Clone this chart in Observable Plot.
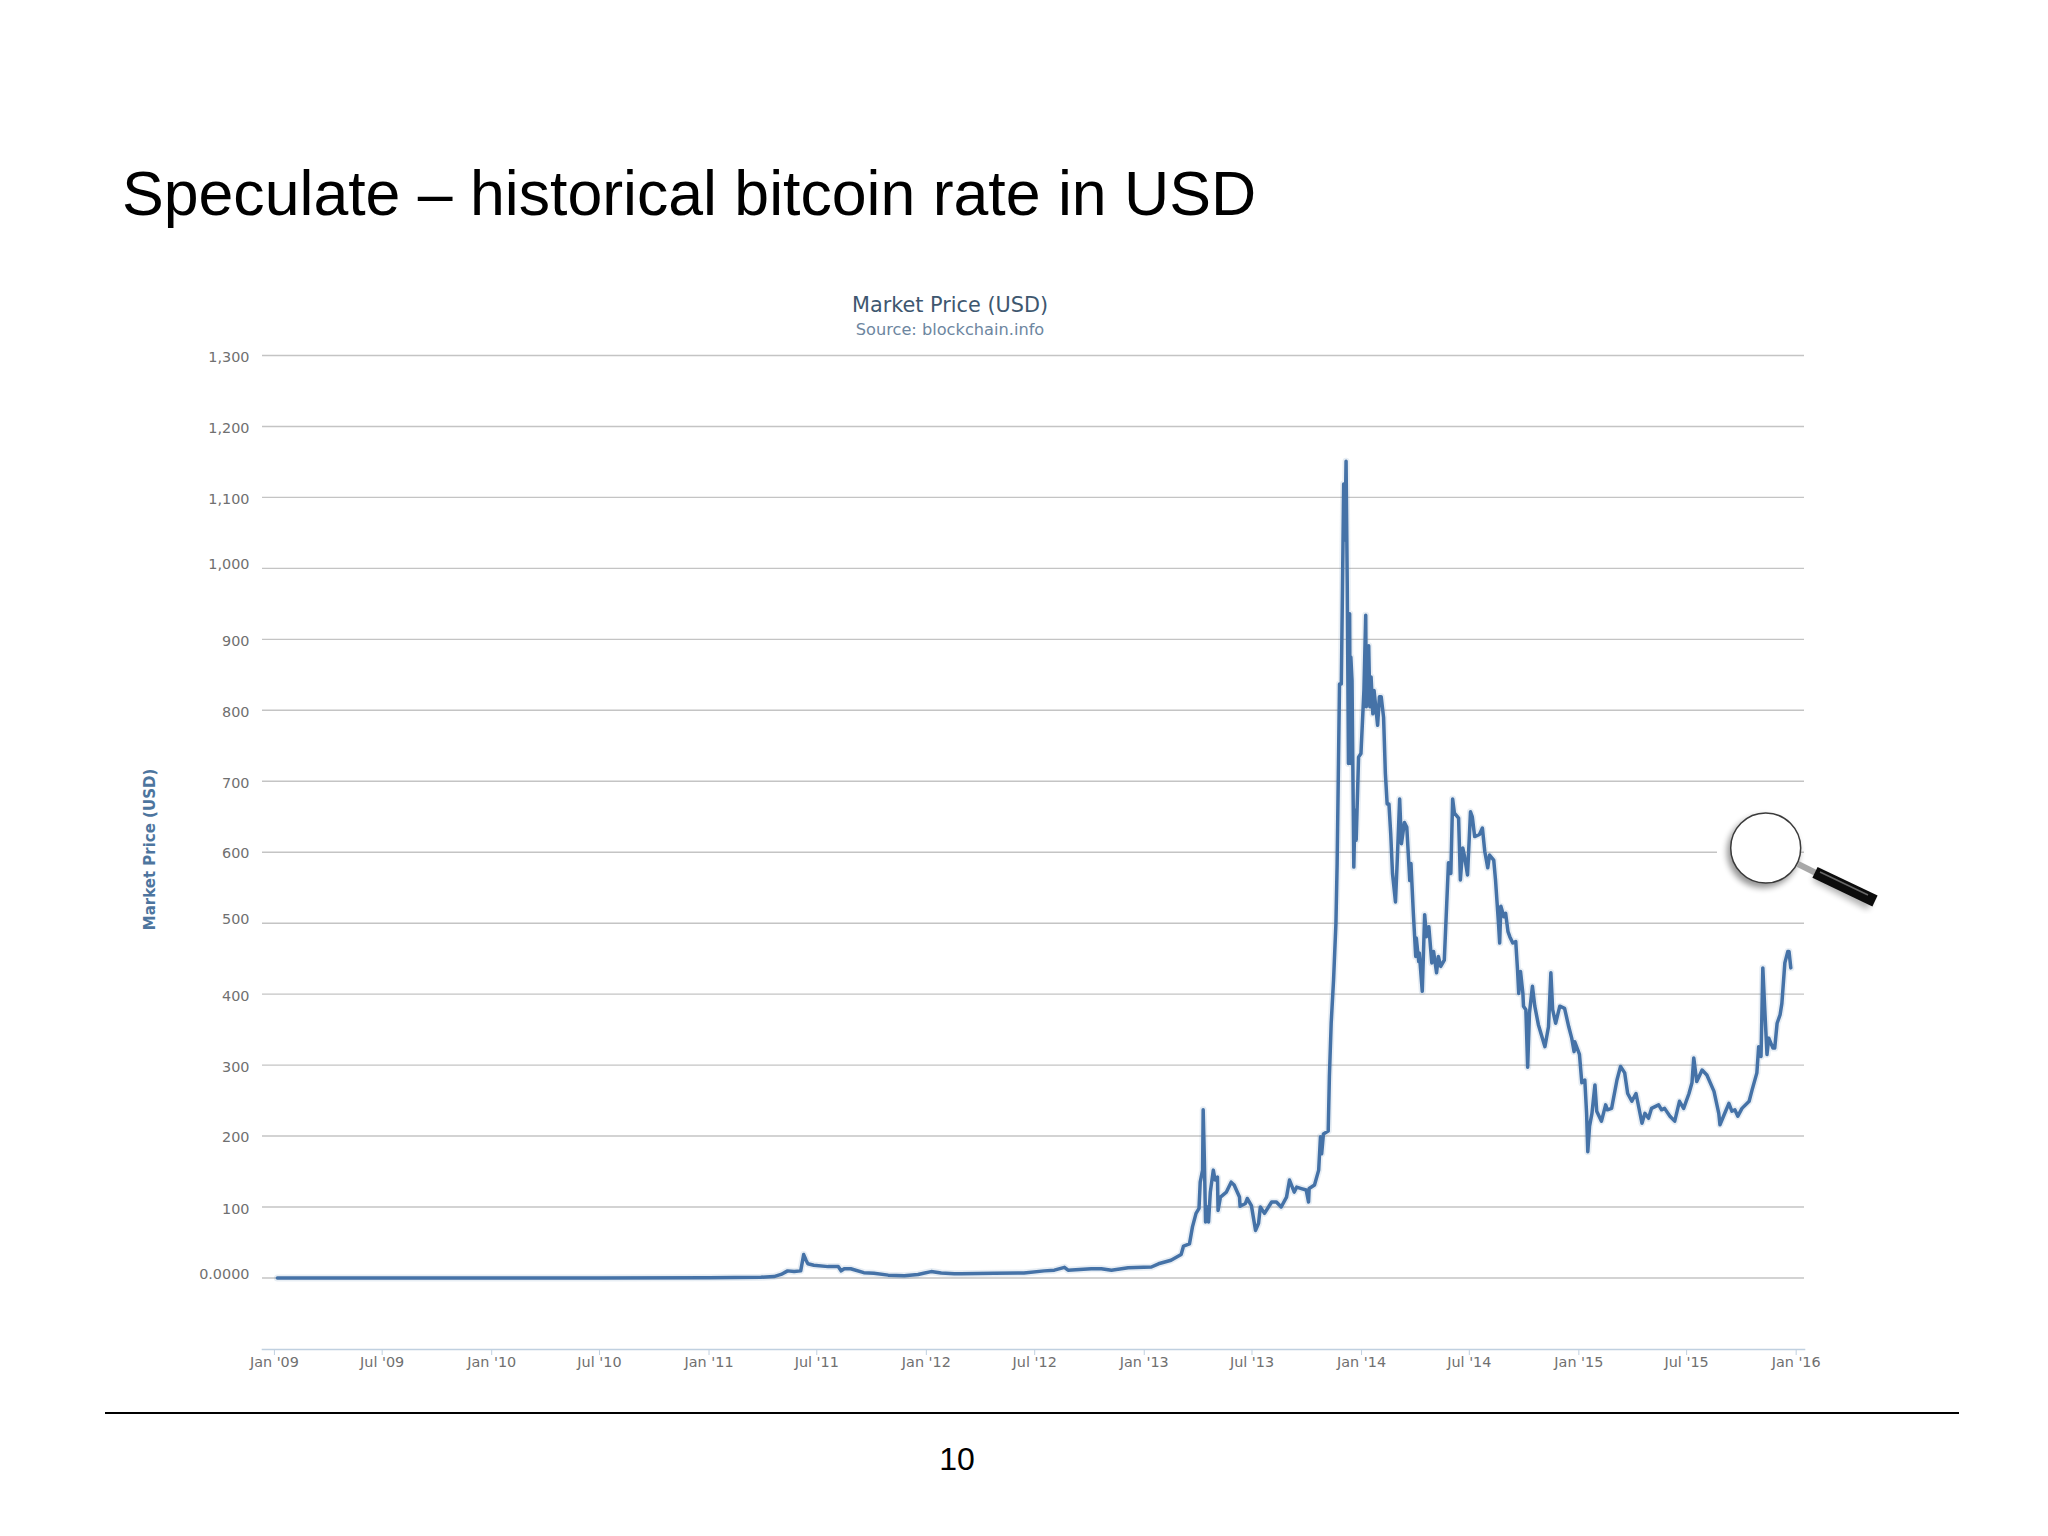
<!DOCTYPE html>
<html>
<head>
<meta charset="utf-8">
<script src="https://cdn.jsdelivr.net/npm/d3@7"></script>
<script src="https://cdn.jsdelivr.net/npm/@observablehq/plot@0.6"></script>
<style>
  html, body { margin: 0; padding: 0; background: #fff; }
  #slide { position: relative; width: 2048px; height: 1536px; overflow: hidden; background: #fff; }
  #slide-title { position: absolute; left: 122px; top: 157px; margin: 0; font: 400 62.6px/72px "Liberation Sans", Arial, sans-serif; color: #000; white-space: nowrap; }
  #chart { position: absolute; left: 0; top: 0; }
  #footer-rule { position: absolute; left: 105px; top: 1411.5px; width: 1854px; height: 2px; background: #000; }
  #page-number { position: absolute; left: 917px; top: 1440px; width: 80px; text-align: center; font: 400 32px/38px "Liberation Sans", Arial, sans-serif; color: #000; }
  #magnifier { position: absolute; left: 1700px; top: 790px; }
</style>
</head>
<body>
<div id="slide">
  <div id="chart"></div>
  <svg id="magnifier" width="200" height="130" viewBox="1700 790 200 130" role="img" aria-label="Magnifying glass">
    <defs><filter id="soft" x="-30%" y="-30%" width="160%" height="160%"><feGaussianBlur stdDeviation="3"/></filter></defs>
    <line x1="1717" x2="1800" y1="852.5" y2="852.5" stroke="#fff" stroke-width="5"/>
    <circle cx="1763" cy="852" r="36" fill="#000" opacity=".42" filter="url(#soft)"/>
    <line x1="1815" y1="876" x2="1870" y2="905" stroke="#000" stroke-width="11" opacity=".3" filter="url(#soft)"/>
    <line x1="1798" y1="864" x2="1816" y2="873" stroke="#a8a8a8" stroke-width="6"/>
    <line x1="1815" y1="872.3" x2="1875" y2="901" stroke="#0c0c0c" stroke-width="12"/>
    <line x1="1820" y1="872" x2="1868" y2="895" stroke="#666" stroke-width="1.5"/>
    <circle cx="1765.7" cy="848" r="35" fill="#fff" stroke="#3a3a3a" stroke-width="1.5"/>
  </svg>
  <h1 id="slide-title">Speculate – historical bitcoin rate in USD</h1>
  <div id="footer-rule"></div>
  <div id="page-number">10</div>
</div>
<script>
const slideTitle = "Speculate – historical bitcoin rate in USD";
const chartTitle = "Market Price (USD)";
const chartSource = "Source: blockchain.info";
const yTitle = "Market Price (USD)";

const yTicksHigh = [1300, 1200, 1100, 900, 800, 700, 400, 300, 100];
const yTicksMid = [600, 200];
const yTicksLow = [1000, 500, 0];
const yTicks = [...yTicksHigh, ...yTicksMid, ...yTicksLow];

const xTickDates = ["2009-01-01","2009-07-01","2010-01-01","2010-07-01","2011-01-01","2011-07-01","2012-01-01","2012-07-01","2013-01-01","2013-07-01","2014-01-01","2014-07-01","2015-01-01","2015-07-01","2016-01-01"];

// Days since 1 Jan 2009
const priceDays = [5,180,365,545,730,817,839,851,862,873,884,889,893,896,906,930,947,952,957,968,990,1007,1031,1058,1081,1103,1120,1142,1153,1209,1259,1293,1310,1327,1333,1372,1389,1406,1434,1473,1485,1506,1523,1527,1537,1542,1548,1553,1555,1559,1560,1562,1564,1567,1569,1572,1577,1580,1584,1585,1589,1599,1607,1612,1621,1622,1631,1634,1641,1648,1653,1656,1663,1675,1683,1691,1700,1705,1713,1717,1725,1733,1737,1738,1747,1754,1757,1759,1762,1770,1772,1775,1779,1783,1785,1787,1789,1792,1794,1796,1798,1800,1802,1804,1806,1807,1808,1810,1813,1815,1817,1821,1825,1830,1833,1834,1838,1840,1842,1845,1847,1853,1856,1859,1863,1866,1869,1872,1875,1878,1883,1886,1890,1893,1898,1902,1907,1909,1913,1917,1918,1922,1923,1928,1932,1935,1939,1944,1947,1952,1955,1959,1965,1969,1972,1976,1979,1982,1989,1992,1996,1999,2004,2009,2012,2016,2024,2029,2033,2038,2041,2048,2051,2056,2058,2060,2065,2068,2072,2075,2080,2085,2088,2090,2093,2097,2098,2102,2105,2108,2113,2117,2123,2134,2140,2144,2147,2152,2159,2167,2174,2179,2183,2184,2192,2196,2201,2204,2206,2209,2213,2218,2221,2229,2236,2239,2246,2255,2261,2268,2273,2280,2287,2297,2302,2308,2313,2325,2330,2335,2344,2352,2360,2367,2376,2381,2384,2389,2398,2406,2418,2426,2428,2435,2443,2448,2453,2458,2465,2477,2482,2490,2493,2497,2500,2503,2507,2510,2517,2520,2524,2529,2532,2537,2542,2544,2547];

// Market price in USD on each of those days
const priceValues = [0,0,0.1,0.1,0.3,1,2,5,10,9,10,33,25,20,18,16,16,10,13,13,7.5,6.5,4,3,5,9,7,6,6,6.5,7,10,11,15,11,13,13,11,14.5,15.5,20,25,33,45,48,72,91,98,135,152,237,166,79,100,79,121,152,138,142,95,114,121,135,131,114,101,105,112,102,67,77,100,91,107,107,100,114,138,121,128,126,124,107,126,131,152,199,175,203,207,284,359,420,500,584,710,837,837,974,1119,1040,1151,974,725,936,725,875,842,579,659,617,734,739,828,934,805,891,805,847,795,828,779,819,819,790,711,668,668,626,570,530,589,675,612,642,635,560,584,514,453,479,446,458,404,512,481,495,444,460,430,453,439,448,526,585,570,675,655,648,561,606,594,568,657,650,622,625,634,601,578,596,589,561,500,472,524,509,514,488,481,472,474,434,401,432,401,383,378,297,373,411,383,357,326,354,430,378,359,383,380,354,338,319,333,315,275,279,232,178,214,232,272,235,221,244,237,239,279,298,289,260,249,260,218,232,225,239,244,237,239,228,221,249,239,260,275,310,277,293,286,263,232,216,230,246,235,237,228,239,249,265,289,326,312,437,383,315,338,324,324,359,371,387,444,460,460,437];

const origin = Date.UTC(2009, 0, 1);
const series = priceDays.map((d, i) => ({date: new Date(origin + d * 864e5), price: priceValues[i]}));

const font = '"DejaVu Sans", "Lucida Grande", Verdana, sans-serif';
const yFormat = (v) => v === 0 ? "0.0000" : d3.format(",")(v);
const yLabelAxis = (ticks, dy) => Plot.axisY(ticks, {anchor: "left", tickSize: 0, tickPadding: 13, tickFormat: yFormat, fill: "#707070", fontSize: 14.4, dy, label: null});

const plot = Plot.plot({
  width: 2048,
  height: 1536,
  marginLeft: 262,
  marginRight: 244,
  marginTop: 355,
  marginBottom: 187,
  style: {background: "transparent", fontFamily: font, overflow: "visible"},
  x: {type: "utc", domain: [new Date(Date.UTC(2008, 11, 12)), new Date(Date.UTC(2016, 0, 15))]},
  y: {domain: [-100.8, 1300]},
  marks: [
    Plot.ruleY(yTicks, {stroke: "#c4c4c4", strokeWidth: 1.4}),
    Plot.frame({anchor: "bottom", stroke: "#c0d0e0", strokeWidth: 1.6}),
    Plot.axisX(xTickDates.map((d) => new Date(d + "T00:00:00Z")), {
      tickSize: 6, tickPadding: 1, stroke: "#c0d0e0", fill: "#707070", fontSize: 14.4,
      tickFormat: d3.utcFormat("%b '%y"), label: null
    }),
    yLabelAxis(yTicksHigh, 2),
    yLabelAxis(yTicksMid, 1),
    yLabelAxis(yTicksLow, -4),
    Plot.line(series, {x: "date", y: "price", stroke: "#4572a7", strokeWidth: 7, strokeOpacity: 0.12, curve: "linear"}),
    Plot.line(series, {x: "date", y: "price", stroke: "#4572a7", strokeWidth: 3.5, curve: "linear", strokeLinejoin: "round"}),
    Plot.text([chartTitle], {frameAnchor: "top", dx: -83.5, dy: -58, fontSize: 20.8, fill: "#3e576f"}),
    Plot.text([chartSource], {frameAnchor: "top", dx: -83.5, dy: -32, fontSize: 16.2, fill: "#6d869f"}),
    Plot.text([yTitle], {frameAnchor: "left", textAnchor: "middle", dx: -112, dy: -3, rotate: -90, fontSize: 15, fontWeight: "bold", fill: "#4d759e"})
  ]
});
document.getElementById("chart").append(plot);
</script>
</body>
</html>
